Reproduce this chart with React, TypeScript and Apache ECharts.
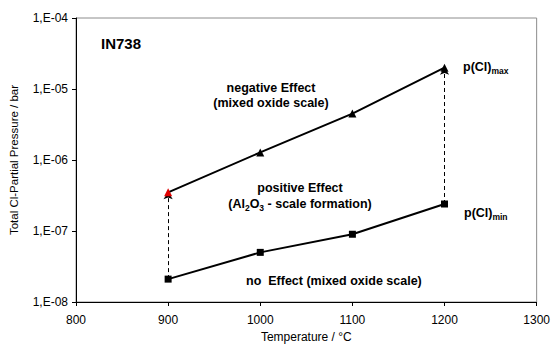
import React, { useEffect, useRef } from "react";
import * as echarts from "echarts";

const temperatures = [900, 1000, 1100, 1200];
const pClMax = [3.5e-7, 1.28e-6, 4.5e-6, 2.0e-5];
const pClMin = [2.1e-8, 5.0e-8, 9.0e-8, 2.4e-7];
const yTickLabels = ["1,E-08", "1,E-07", "1,E-06", "1,E-05", "1,E-04"];
const xTitle = "Temperature / °C";
const yTitle = "Total Cl-Partial Pressure / bar";

const FONT = "Liberation Sans, Arial, sans-serif";

export default function App() {
  const ref = useRef<HTMLDivElement>(null);
  useEffect(() => {
    if (!ref.current) return;
    const chart = echarts.init(ref.current, undefined, { renderer: "svg" });
    const bold = (size: number) => `bold ${size}px ${FONT}`;
    const richSub = {
      m: { fontSize: 12.5, fontWeight: "bold", fontFamily: FONT, color: "#000", lineHeight: 16 },
      s: { fontSize: 8.5, fontWeight: "bold", fontFamily: FONT, color: "#000", lineHeight: 10, verticalAlign: "bottom" },
    };
    chart.setOption({
      animation: false,
      backgroundColor: "#fff",
      grid: {
        left: 70,
        right: 14.5,
        top: 18,
        bottom: 42.5,
        show: true,
        borderColor: "#8c8c8c",
        borderWidth: 1,
        containLabel: false,
      },
      xAxis: {
        type: "value",
        min: 800,
        max: 1300,
        interval: 100,
        name: xTitle,
        nameLocation: "middle",
        nameGap: 29,
        nameTextStyle: { fontFamily: FONT, fontSize: 12, color: "#000" },
        axisLine: { show: true, lineStyle: { color: "#000", width: 1 } },
        axisTick: { show: true, length: 4, inside: false, lineStyle: { color: "#000" } },
        axisLabel: {
          margin: 12,
          fontFamily: FONT,
          fontSize: 12,
          color: "#000",
          formatter: (v: number) => String(v),
        },
        splitLine: { show: false },
      },
      yAxis: {
        type: "log",
        logBase: 10,
        min: 1e-8,
        max: 1e-4,
        name: yTitle,
        nameLocation: "middle",
        nameGap: 56,
        nameTextStyle: { fontFamily: FONT, fontSize: 11.5, color: "#000" },
        axisLine: { show: true, lineStyle: { color: "#000", width: 1 } },
        axisTick: { show: true, length: 4, inside: false, lineStyle: { color: "#000" } },
        axisLabel: {
          margin: 8,
          fontFamily: FONT,
          fontSize: 12,
          color: "#000",
          formatter: (v: number) => {
            const idx = Math.round(Math.log10(v)) + 8;
            return yTickLabels[idx] ?? "";
          },
        },
        splitLine: { show: false },
      },
      series: [
        {
          type: "lines",
          coordinateSystem: "cartesian2d",
          symbol: ["none", "arrow"],
          symbolSize: 7,
          z: 1,
          lineStyle: { type: [4, 3], width: 1, color: "#000", opacity: 1 },
          data: [
            {
              coords: [
                [temperatures[0], pClMin[0]],
                [temperatures[0], pClMax[0]],
              ],
            },
            {
              coords: [
                [temperatures[3], pClMin[3]],
                [temperatures[3], pClMax[3]],
              ],
            },
          ],
        },
        {
          type: "line",
          z: 3,
          data: temperatures.map((t, i) =>
            i === 0
              ? { value: [t, pClMax[i]], itemStyle: { color: "#e00000" } }
              : [t, pClMax[i]]
          ),
          symbol: "triangle",
          symbolSize: 8,
          showSymbol: true,
          lineStyle: { color: "#000", width: 2 },
          itemStyle: { color: "#000" },
        },
        {
          type: "line",
          z: 3,
          data: temperatures.map((t, i) => [t, pClMin[i]]),
          symbol: "rect",
          symbolSize: 7,
          showSymbol: true,
          lineStyle: { color: "#000", width: 2 },
          itemStyle: { color: "#000" },
        },
      ],
      graphic: [
        {
          type: "text",
          left: 101,
          top: 36,
          style: { text: "IN738", font: bold(15), fill: "#000" },
        },
        {
          type: "text",
          x: 271,
          y: 95.5,
          style: {
            text: "negative Effect\n(mixed oxide scale)",
            font: bold(12.5),
            lineHeight: 15,
            fill: "#000",
            align: "center",
            verticalAlign: "middle",
          },
        },
        {
          type: "text",
          x: 300,
          y: 196,
          style: {
            text: "{m|positive Effect}\n{m|(Al}{s|2}{m|O}{s|3}{m| - scale formation)}",
            rich: richSub,
            fill: "#000",
            align: "center",
            verticalAlign: "middle",
          },
        },
        {
          type: "text",
          x: 246,
          y: 281,
          style: {
            text: "no  Effect (mixed oxide scale)",
            font: bold(12.5),
            fill: "#000",
            align: "left",
            verticalAlign: "middle",
          },
        },
        {
          type: "text",
          x: 463,
          y: 67,
          style: {
            text: "{m|p(Cl)}{s|max}",
            rich: richSub,
            align: "left",
            verticalAlign: "middle",
          },
        },
        {
          type: "text",
          x: 464,
          y: 213,
          style: {
            text: "{m|p(Cl)}{s|min}",
            rich: richSub,
            align: "left",
            verticalAlign: "middle",
          },
        },
      ],
    });
    return () => chart.dispose();
  }, []);
  return <div ref={ref} style={{ width: 553, height: 348, position: "absolute", left: 0, top: 0 }} />;
}
